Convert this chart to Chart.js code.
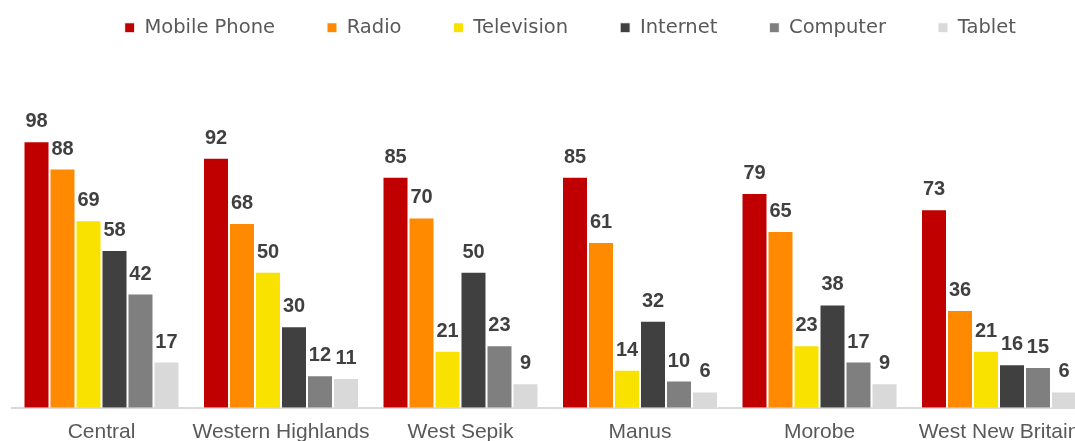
<!DOCTYPE html>
<html>
<head>
<meta charset="utf-8">
<script src="https://cdn.jsdelivr.net/npm/chart.js@4/dist/chart.umd.min.js"></script>
<style>
  html, body { margin: 0; padding: 0; background: #ffffff; }
  #wrap { width: 1075px; height: 441px; overflow: hidden; position: relative; }
  canvas { display: block; }
</style>
</head>
<body>
<div id="wrap"><canvas id="chart" width="1100" height="450"></canvas></div>
<script>
// Device ownership by province (%)
const provinces = ['Central', 'Western Highlands', 'West Sepik', 'Manus', 'Morobe', 'West New Britain'];
const mobilePhone = [98, 92, 85, 85, 79, 73];
const radio       = [88, 68, 70, 61, 65, 36];
const television  = [69, 50, 21, 14, 23, 21];
const internet    = [58, 30, 50, 32, 38, 16];
const computer    = [42, 12, 23, 10, 17, 15];
const tablet      = [17, 11,  9,  6,  9,  6];

const seriesNames  = ['Mobile Phone', 'Radio', 'Television', 'Internet', 'Computer', 'Tablet'];
const seriesValues = [mobilePhone, radio, television, internet, computer, tablet];
const seriesColors = ['#C00000', '#FF8A00', '#F9E100', '#404040', '#7F7F7F', '#D9D9D9'];

// Value labels above each bar
const valueLabels = {
  id: 'valueLabels',
  afterDatasetsDraw(chart) {
    const ctx = chart.ctx;
    ctx.save();
    ctx.font = 'bold 20px "Liberation Sans", Arial, sans-serif';
    ctx.fillStyle = '#404040';
    ctx.textAlign = 'center';
    ctx.textBaseline = 'alphabetic';
    chart.data.datasets.forEach((ds, i) => {
      chart.getDatasetMeta(i).data.forEach((bar, j) => {
        ctx.fillText(String(ds.data[j]), bar.x, bar.y - 14);
      });
    });
    ctx.restore();
  }
};

// Nudge the legend row sideways within its box
const legendShift = {
  id: 'legendShift',
  afterLayout(chart) {
    const dx = chart.options.plugins.legendShift.dx || 0;
    chart.legend.left += dx;
    chart.legend.right += dx;
  }
};

new Chart(document.getElementById('chart'), {
  type: 'bar',
  data: {
    labels: provinces,
    datasets: seriesNames.map((name, i) => ({
      label: name,
      data: seriesValues[i],
      backgroundColor: seriesColors[i],
      borderColor: '#ffffff',
      borderWidth: 1,
      categoryPercentage: 0.869,
      barPercentage: 1.0
    }))
  },
  options: {
    responsive: false,
    animation: false,
    devicePixelRatio: 1,
    layout: { padding: { left: 11.75, right: 11.25, top: -34, bottom: -7 } },
    plugins: {
      legendShift: { dx: 20 },
      tooltip: { enabled: false },
      legend: {
        position: 'top',
        align: 'center',
        labels: {
          boxWidth: 10,
          boxHeight: 10,
          padding: 52,
          color: '#595959',
          font: { family: '"DejaVu Sans", sans-serif', size: 19.5 }
        }
      }
    },
    scales: {
      x: {
        grid: { display: false, drawTicks: false },
        border: { display: true, color: '#D9D9D9', width: 2 },
        ticks: {
          color: '#595959',
          padding: 12,
          maxRotation: 0,
          autoSkip: false,
          font: { family: '"Liberation Sans", Arial, sans-serif', size: 21 }
        }
      },
      y: {
        display: false,
        min: 0,
        max: 132.5
      }
    }
  },
  plugins: [valueLabels, legendShift]
});
</script>
</body>
</html>
